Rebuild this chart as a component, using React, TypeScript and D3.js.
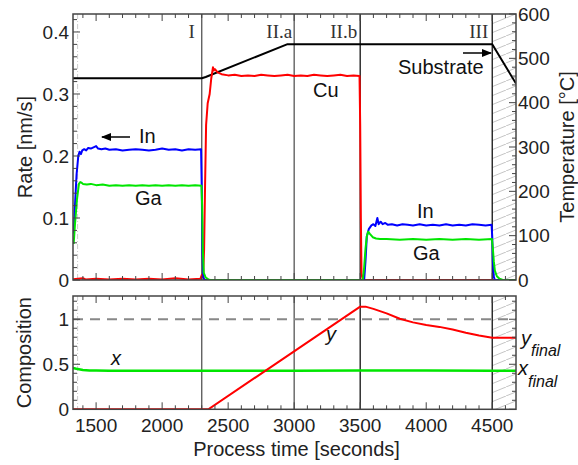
import React from "react";
import * as d3 from "d3";

// ---- data ---------------------------------------------------------------
// time [s], rate [nm/s]
const indiumRate: [number, number][] = [
  [1330, 0.075], [1340, 0.12], [1352, 0.17], [1365, 0.2], [1375, 0.207], [1385, 0.203],
  [1395, 0.209], [1410, 0.211], [1425, 0.209], [1440, 0.213], [1460, 0.212], [1480, 0.214],
  [1500, 0.216], [1515, 0.212], [1540, 0.211], [1570, 0.212], [1600, 0.21], [1650, 0.211],
  [1700, 0.209], [1750, 0.21], [1800, 0.211], [1850, 0.21], [1900, 0.209], [1950, 0.21],
  [2000, 0.212], [2050, 0.21], [2100, 0.211], [2150, 0.209], [2200, 0.211], [2250, 0.21],
  [2295, 0.211], [2300, 0.15], [2305, 0.05], [2312, 0.005], [2320, 0], [3530, 0],
  [3540, 0.03], [3550, 0.07], [3565, 0.082], [3585, 0.088], [3600, 0.09], [3615, 0.087],
  [3630, 0.1], [3640, 0.09], [3655, 0.094], [3670, 0.09], [3690, 0.092], [3710, 0.089],
  [3740, 0.09], [3780, 0.088], [3820, 0.09], [3860, 0.089], [3900, 0.088], [3950, 0.09],
  [4000, 0.088], [4050, 0.089], [4100, 0.088], [4150, 0.09], [4200, 0.088], [4250, 0.089],
  [4300, 0.088], [4350, 0.09], [4400, 0.089], [4450, 0.088], [4495, 0.089], [4500, 0.07],
  [4505, 0.03], [4512, 0.005], [4520, 0], [4680, 0],
];

const galliumRate: [number, number][] = [
  [1330, 0.058], [1340, 0.09], [1355, 0.13], [1370, 0.155], [1380, 0.158], [1390, 0.157],
  [1400, 0.155], [1430, 0.154], [1460, 0.155], [1500, 0.153], [1550, 0.154], [1600, 0.152],
  [1650, 0.153], [1700, 0.152], [1750, 0.153], [1800, 0.152], [1850, 0.153], [1900, 0.152],
  [1950, 0.153], [2000, 0.152], [2050, 0.153], [2100, 0.152], [2150, 0.153], [2200, 0.152],
  [2250, 0.153], [2298, 0.152], [2303, 0.12], [2308, 0.05], [2315, 0.012], [2330, 0.004],
  [2350, 0.001], [2365, 0], [3520, 0], [3530, 0.02], [3540, 0.05], [3550, 0.07],
  [3560, 0.078], [3575, 0.074], [3595, 0.069], [3620, 0.067], [3650, 0.066], [3700, 0.066],
  [3800, 0.065], [3900, 0.066], [4000, 0.065], [4100, 0.066], [4200, 0.065], [4300, 0.066],
  [4400, 0.065], [4498, 0.066], [4505, 0.05], [4512, 0.03], [4520, 0.015], [4535, 0.006],
  [4555, 0.002], [4580, 0], [4680, 0],
];

const copperRate: [number, number][] = [
  [1325, 0.001], [1400, 0.003], [1420, 0.001], [1500, 0.002], [1600, 0.001], [1700, 0.002],
  [1800, 0.001], [1900, 0.002], [2000, 0.001], [2100, 0.003], [2200, 0.001], [2290, 0.002],
  [2300, 0.008], [2310, 0.004], [2318, 0.05], [2325, 0.15], [2333, 0.25], [2345, 0.285],
  [2360, 0.3], [2372, 0.325], [2385, 0.343], [2392, 0.338], [2400, 0.34], [2420, 0.335],
  [2450, 0.332], [2500, 0.33], [2550, 0.331], [2600, 0.329], [2650, 0.33], [2700, 0.329],
  [2750, 0.331], [2800, 0.33], [2850, 0.329], [2900, 0.33], [2950, 0.331], [3000, 0.329],
  [3050, 0.33], [3100, 0.329], [3150, 0.331], [3200, 0.33], [3250, 0.329], [3300, 0.33],
  [3350, 0.331], [3400, 0.329], [3450, 0.33], [3495, 0.329], [3500, 0.25], [3505, 0.1],
  [3510, 0.01], [3520, 0], [4680, 0],
];

// time [s], substrate temperature [°C]
const substrateTemp: [number, number][] = [
  [1325, 455], [2300, 455], [2330, 458], [2950, 532], [4500, 532], [4680, 443],
];

// time [s], composition
const compositionX: [number, number][] = [
  [1325, 0.46], [1350, 0.45], [1400, 0.437], [1450, 0.431], [1500, 0.43], [1600, 0.428],
  [2000, 0.428], [3000, 0.428], [3500, 0.43], [4000, 0.43], [4500, 0.428], [4680, 0.428],
];

const compositionY: [number, number][] = [
  [1325, 0], [2350, 0], [3500, 1.14], [3540, 1.14], [3600, 1.115], [3700, 1.065],
  [3800, 1.005], [3900, 0.965], [4000, 0.935], [4100, 0.915], [4200, 0.885], [4300, 0.85],
  [4400, 0.82], [4500, 0.795], [4680, 0.795],
];

const timeLabels = [1500, 2000, 2500, 3000, 3500, 4000, 4500];
const rateLabels = [0, 0.1, 0.2, 0.3, 0.4];
const tempLabels = [0, 100, 200, 300, 400, 500, 600];
const compLabels = [0, 0.5, 1];
const stages = [
  { t: 2300, label: "I", gap: 7, color: "#555" },
  { t: 3000, label: "II.a", gap: 2, color: "#555" },
  { t: 3500, label: "II.b", gap: 3, color: "#111" },
  { t: 4500, label: "III", gap: 4, color: "#111" },
];

// ---- layout ------------------------------------------------------------
const [width, height] = [578, 465];
const left = 73, right = 516;
const top1 = 14, bot1 = 280;
const top2 = 296, bot2 = 409.3;
const sans = "'Liberation Sans', Arial, sans-serif";
const serif = "'Liberation Serif', 'Times New Roman', serif";

const x = d3.scaleLinear().domain([1325, 4680]).range([left, right]);
const yRate = d3.scaleLinear().domain([0, 0.429]).range([bot1, top1]);
const yTemp = d3.scaleLinear().domain([0, 600]).range([bot1, top1]);
const yComp = d3.scaleLinear().domain([0, 1.258]).range([bot2, top2]);

const App = () => {
  const rateLine = d3.line<[number, number]>().x(d => x(d[0])).y(d => yRate(d[1]));
  const tempLine = d3.line<[number, number]>().x(d => x(d[0])).y(d => yTemp(d[1]));
  const compLine = d3.line<[number, number]>().x(d => x(d[0])).y(d => yComp(d[1]));

  const xTicks = d3.range(1400, 4680, 100);
  const rateTicks = d3.range(0, 0.43, 0.02);
  const tempTicks = d3.range(0, 601, 20);
  const compTicks = d3.range(0, 1.26, 0.1);

  const panels = [
    { top: top1, bot: bot1, id: "p1" },
    { top: top2, bot: bot2, id: "p2" },
  ];

  return (
    <svg width={width} height={height} style={{ position: "absolute", left: 0, top: 0, background: "#fff" }}
      fontFamily={sans}>
      <defs>
        {panels.map(p => (
          <clipPath id={"clip-" + p.id} key={p.id}>
            <rect x={left} y={p.top} width={right - left} height={p.bot - p.top} />
          </clipPath>
        ))}
        <pattern id="hatch" width="22" height="9" patternUnits="userSpaceOnUse">
          <line x1="0" y1="9" x2="22" y2="0" stroke="#aaa" strokeWidth="0.7" />
        </pattern>
        <marker id="arrow" viewBox="0 0 10 10" refX="9" refY="5" markerWidth="7" markerHeight="7" orient="auto-start-reverse">
          <path d="M0,1 L10,5 L0,9 z" fill="#000" />
        </marker>
      </defs>

      {/* hatched shutter-closed areas */}
      {panels.map(p => (
        <g key={"h" + p.id}>
          <rect x={x(4500)} y={p.top} width={right - x(4500)} height={p.bot - p.top} fill="url(#hatch)" />
          <line x1={x(1360)} x2={x(1360)} y1={p.top} y2={p.bot} stroke="#ccc" strokeDasharray="5,2,1,2" />
        </g>
      ))}

      {/* stage separators */}
      {stages.map(s => panels.map(p => (
        <line key={s.label + p.id} x1={x(s.t)} x2={x(s.t)} y1={p.top} y2={p.bot} stroke={s.color} strokeWidth={1.3} />
      )))}
      {stages.map(s => (
        <text key={"l" + s.label} x={x(s.t) - s.gap} y={38} textAnchor="end" fontFamily={serif} fontSize={19} fill="#333">{s.label}</text>
      ))}

      {/* top panel curves */}
      <g clipPath="url(#clip-p1)" fill="none" strokeWidth={2} strokeLinejoin="round">
        <path d={tempLine(substrateTemp) ?? ""} stroke="#000" />
        <path d={rateLine(copperRate) ?? ""} stroke="#ff0000" />
        <path d={rateLine(indiumRate) ?? ""} stroke="#0000ff" />
        <path d={rateLine(galliumRate) ?? ""} stroke="#00e600" />
      </g>

      {/* bottom panel curves */}
      <g clipPath="url(#clip-p2)" fill="none" strokeLinejoin="round">
        <line x1={left} x2={right} y1={yComp(1)} y2={yComp(1)} stroke="#888" strokeWidth={2} strokeDasharray="10,7" />
        <path d={compLine(compositionX) ?? ""} stroke="#00e600" strokeWidth={2.5} />
        <path d={compLine(compositionY) ?? ""} stroke="#ff0000" strokeWidth={2} />
      </g>

      {/* frames and ticks */}
      {panels.map(p => (
        <g key={"f" + p.id} stroke="#444" strokeWidth={1}>
          {xTicks.map(t => {
            const len = t % 500 === 0 ? 7 : 4;
            return (
              <g key={t}>
                <line x1={x(t)} x2={x(t)} y1={p.top} y2={p.top + len} />
                <line x1={x(t)} x2={x(t)} y1={p.bot} y2={p.bot - len} />
              </g>
            );
          })}
          <rect x={left} y={p.top} width={right - left} height={p.bot - p.top} fill="none" strokeWidth={1.5} />
        </g>
      ))}
      <g stroke="#444" strokeWidth={1}>
        {rateTicks.map((v, i) => {
          const len = i % 5 === 0 ? 7 : 4;
          return <line key={"r" + i} x1={left} x2={left + len} y1={yRate(v)} y2={yRate(v)} />;
        })}
        {tempTicks.map(v => {
          const len = v % 100 === 0 ? 7 : 4;
          return <line key={"t" + v} x1={right} x2={right - len} y1={yTemp(v)} y2={yTemp(v)} />;
        })}
        {compTicks.map((v, i) => {
          const len = i % 5 === 0 ? 7 : 4;
          return (
            <g key={"c" + i}>
              <line x1={left} x2={left + len} y1={yComp(v)} y2={yComp(v)} />
              <line x1={right} x2={right - len} y1={yComp(v)} y2={yComp(v)} />
            </g>
          );
        })}
      </g>

      {/* tick labels */}
      <g fontSize={19} fill="#222">
        {rateLabels.map(v => (
          <text key={"rl" + v} x={69} y={yRate(v)} dy="0.35em" textAnchor="end">{String(v)}</text>
        ))}
        {tempLabels.map(v => (
          <text key={"tl" + v} x={518} y={yTemp(v)} dy="0.35em">{v}</text>
        ))}
        {compLabels.map(v => (
          <text key={"cl" + v} x={69} y={yComp(v)} dy="0.35em" textAnchor="end">{String(v)}</text>
        ))}
        {timeLabels.map(t => (
          <text key={"xl" + t} x={x(t)} y={432} textAnchor="middle">{t}</text>
        ))}
      </g>

      {/* axis titles */}
      <g fontSize={20} fill="#222">
        <text transform={`translate(32,${(top1 + bot1) / 2}) rotate(-90)`} textAnchor="middle">Rate [nm/s]</text>
        <text transform={`translate(574,${(top1 + bot1) / 2}) rotate(-90)`} textAnchor="middle">Temperature [°C]</text>
        <text transform={`translate(31,${(top2 + bot2) / 2}) rotate(-90)`} textAnchor="middle">Composition</text>
        <text x={(left + right) / 2 + 2} y={456} textAnchor="middle">Process time [seconds]</text>
      </g>

      {/* annotations */}
      <g fontSize={20} fill="#111">
        <line x1={130} x2={102} y1={137} y2={137} stroke="#000" strokeWidth={1.5} markerEnd="url(#arrow)" />
        <text x={139} y={143}>In</text>
        <text x={135} y={205}>Ga</text>
        <text x={313} y={97}>Cu</text>
        <text x={398} y={74}>Substrate</text>
        <line x1={463} x2={491} y1={53} y2={53} stroke="#000" strokeWidth={1.5} markerEnd="url(#arrow)" />
        <text x={417} y={218}>In</text>
        <text x={413} y={260}>Ga</text>
        <text x={111} y={365} fontStyle="italic">x</text>
        <text x={326} y={341} fontStyle="italic">y</text>
        <text x={521} y={345} fontStyle="italic">y</text>
        <text x={531} y={356} fontStyle="italic" fontSize={16}>final</text>
        <text x={518} y={375} fontStyle="italic">x</text>
        <text x={528} y={387} fontStyle="italic" fontSize={16}>final</text>
      </g>
    </svg>
  );
};

export default App;
